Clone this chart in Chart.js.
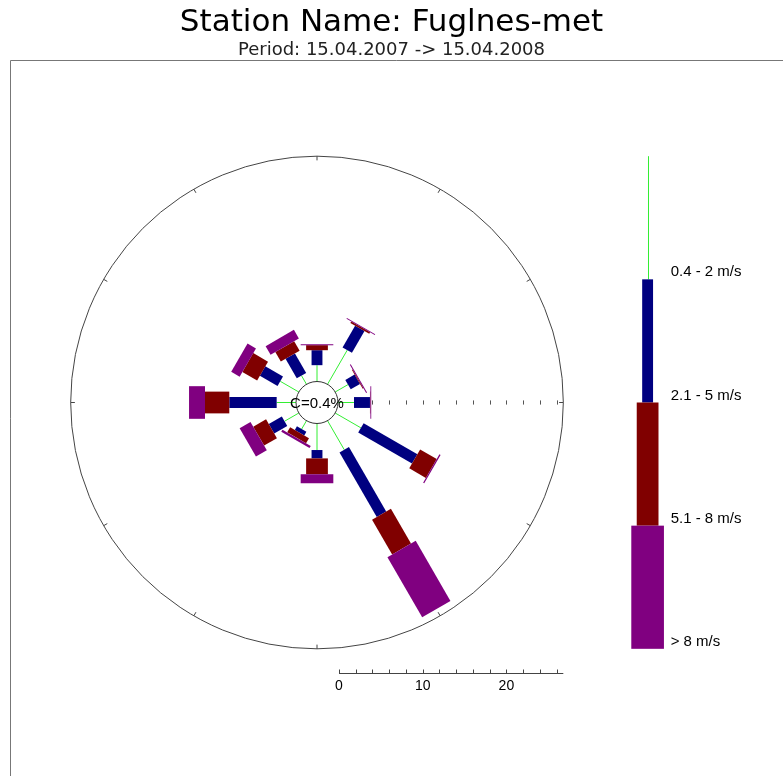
<!DOCTYPE html>
<html>
<head>
<meta charset="utf-8">
<title>Wind rose - Fuglnes-met</title>
<script src="https://cdn.jsdelivr.net/npm/chart.js@4.4.1/dist/chart.umd.min.js"></script>
<style>
  html, body { margin: 0; padding: 0; background: #fff; }
  canvas { display: block; }
</style>
</head>
<body>
<canvas id="rose" width="783" height="776"></canvas>
<script>
// wind rose data: % of time per direction sector and speed class
const directions = [0, 30, 60, 90, 120, 150, 180, 210, 240, 270, 300, 330];
const speedClasses = ['0.4 - 2 m/s', '2.1 - 5 m/s', '5.1 - 8 m/s', '> 8 m/s'];
const speed1 = [1.83, 4.6, 1.65, 1.79, 3.43, 3.88, 3.05, 1.04, 1.85, 2.19, 2.44, 1.08];
const speed2 = [1.79, 3.0, 1.28, 1.91, 7.42, 8.9, 1.0, 0.5, 1.8, 5.66, 2.44, 2.69];
const speed3 = [0.6, 0.2, 0.1, 0.05, 2.29, 4.8, 1.9, 0.7, 1.77, 2.9, 2.04, 1.31];
const speed4 = [0.12, 0.1, 0.12, 0.1, 0.15, 8.3, 1.08, 0.3, 1.5, 1.91, 1.16, 1.19];
const calmPct = 0.4;
const scaleTicks = [0, 10, 20];
const scaleMax = 26.8;

// layout (pixels), everything else is in % units through the scales
const W = 783, H = 776;
const AREA_TOP = 60;
const PX_PER_PCT = 8.37;
const CENTER_X = 317, CENTER_Y = 402.5;

const offset = 22 / PX_PER_PCT;      // bars start outside the calm circle
const calmRadius = 21 / PX_PER_PCT;
const outerRadius = offset + scaleMax;
const classColors = ['#33ee33', '#000080', '#800000', '#800080'];
const classWidths = [0, 1.3, 2.6, 3.9];
const legendX = 39.5;
const bottomScaleY = -32.35;

const series = [speed1, speed2, speed3, speed4];

const windRosePlugin = {
    id: 'windRose',
    afterDraw(chart) {
        const ctx = chart.ctx;
        const xs = chart.scales.x;
        const ys = chart.scales.y;
        const px = (x, y) => [xs.getPixelForValue(x), ys.getPixelForValue(y)];
        const unit = xs.getPixelForValue(1) - xs.getPixelForValue(0);
        const [cx, cy] = px(0, 0);

        ctx.save();

        // frame
        ctx.strokeStyle = '#777';
        ctx.lineWidth = 1;
        ctx.beginPath();
        ctx.moveTo(10.5, H);
        ctx.lineTo(10.5, chart.chartArea.top + 0.5);
        ctx.lineTo(W, chart.chartArea.top + 0.5);
        ctx.stroke();

        // outer circle + ticks every 30 degrees
        ctx.strokeStyle = '#444';
        ctx.beginPath();
        ctx.arc(cx, cy, outerRadius * unit, 0, Math.PI * 2);
        ctx.stroke();
        for (let a = 0; a < 360; a += 30) {
            const r = a * Math.PI / 180;
            const [x1, y1] = px(outerRadius * Math.sin(r), outerRadius * Math.cos(r));
            const [x2, y2] = px((outerRadius - 0.5) * Math.sin(r), (outerRadius - 0.5) * Math.cos(r));
            ctx.beginPath();
            ctx.moveTo(x1, y1);
            ctx.lineTo(x2, y2);
            ctx.stroke();
        }

        // dotted scale towards east
        ctx.strokeStyle = '#555';
        for (let v = 2; v <= scaleMax; v += 2) {
            const [x1, y1] = px(offset + v, 0.25);
            const [x2, y2] = px(offset + v, -0.25);
            ctx.beginPath();
            ctx.moveTo(Math.round(x1) + 0.5, y1);
            ctx.lineTo(Math.round(x2) + 0.5, y2);
            ctx.stroke();
        }

        // bars
        directions.forEach((dir, i) => {
            const a = dir * Math.PI / 180;
            const ux = Math.sin(a), uy = Math.cos(a);
            const vx = Math.cos(a), vy = -Math.sin(a);
            let r = offset;
            series.forEach((s, k) => {
                const r2 = r + s[i];
                if (k === 0) {
                    const [x1, y1] = px(calmRadius * ux, calmRadius * uy);
                    const [x2, y2] = px(r2 * ux, r2 * uy);
                    ctx.strokeStyle = classColors[0];
                    ctx.lineWidth = 1;
                    ctx.beginPath();
                    ctx.moveTo(x1, y1);
                    ctx.lineTo(x2, y2);
                    ctx.stroke();
                } else {
                    const hw = classWidths[k] / 2;
                    const pts = [[r, -hw], [r2, -hw], [r2, hw], [r, hw]]
                        .map(([rr, w]) => px(rr * ux + w * vx, rr * uy + w * vy));
                    ctx.fillStyle = classColors[k];
                    ctx.beginPath();
                    pts.forEach(([x, y], j) => j ? ctx.lineTo(x, y) : ctx.moveTo(x, y));
                    ctx.closePath();
                    ctx.fill();
                }
                r = r2;
            });
        });

        // calm circle
        ctx.fillStyle = '#fff';
        ctx.strokeStyle = '#333';
        ctx.lineWidth = 1;
        ctx.beginPath();
        ctx.arc(cx, cy, calmRadius * unit, 0, Math.PI * 2);
        ctx.fill();
        ctx.stroke();
        ctx.fillStyle = '#000';
        ctx.font = '15px "Liberation Sans", Arial, sans-serif';
        ctx.textAlign = 'center';
        ctx.textBaseline = 'middle';
        ctx.fillText('C=' + calmPct + '%', cx, cy + 1);

        // bottom scale
        const [sx0, sy] = px(offset, bottomScaleY);
        const [sx1] = px(offset + scaleMax, bottomScaleY);
        const lineY = Math.round(sy) + 0.5;
        ctx.strokeStyle = '#444';
        ctx.beginPath();
        ctx.moveTo(sx0, lineY);
        ctx.lineTo(sx1, lineY);
        ctx.stroke();
        for (let v = 0; v <= scaleMax; v += 2) {
            const x = Math.round(xs.getPixelForValue(offset + v)) + 0.5;
            ctx.beginPath();
            ctx.moveTo(x, lineY);
            ctx.lineTo(x, lineY - 4);
            ctx.stroke();
        }
        ctx.font = '14px "Liberation Sans", Arial, sans-serif';
        ctx.textBaseline = 'top';
        scaleTicks.forEach(t => {
            ctx.fillText(String(t), xs.getPixelForValue(offset + t), lineY + 6);
        });

        // legend: one segment per speed class, top to bottom across the circle diameter
        const seg = (2 * outerRadius) / speedClasses.length;
        ctx.textAlign = 'left';
        ctx.textBaseline = 'alphabetic';
        ctx.font = '15px "Liberation Sans", Arial, sans-serif';
        speedClasses.forEach((label, k) => {
            const yTop = outerRadius - k * seg;
            const yBot = yTop - seg;
            if (k === 0) {
                const [x1, y1] = px(legendX, yTop);
                const [, y2] = px(legendX, yBot);
                ctx.strokeStyle = classColors[0];
                ctx.beginPath();
                ctx.moveTo(Math.round(x1) + 0.5, y1);
                ctx.lineTo(Math.round(x1) + 0.5, y2);
                ctx.stroke();
            } else {
                const hw = classWidths[k] / 2;
                const [x1, y1] = px(legendX - hw, yTop);
                const [x2, y2] = px(legendX + hw, yBot);
                ctx.fillStyle = classColors[k];
                ctx.fillRect(x1, y1, x2 - x1, y2 - y1);
            }
            const [lx] = px(legendX + 2.75, 0);
            const [, ly] = px(0, yBot);
            ctx.fillStyle = '#000';
            ctx.fillText(label, lx, ly - 3);
        });

        ctx.restore();
    }
};

new Chart(document.getElementById('rose'), {
    type: 'scatter',
    data: { datasets: [] },
    options: {
        responsive: false,
        animation: false,
        events: [],
        layout: { padding: 0 },
        scales: {
            x: {
                type: 'linear', display: false,
                min: -CENTER_X / PX_PER_PCT,
                max: (W - CENTER_X) / PX_PER_PCT
            },
            y: {
                type: 'linear', display: false,
                min: -(H - CENTER_Y) / PX_PER_PCT,
                max: (CENTER_Y - AREA_TOP) / PX_PER_PCT
            }
        },
        plugins: {
            legend: { display: false },
            tooltip: { enabled: false },
            title: {
                display: true,
                text: 'Station Name: Fuglnes-met',
                color: '#000',
                font: { family: '"DejaVu Sans", sans-serif', size: 31, weight: 'normal', lineHeight: 1.2 },
                padding: { top: 4, bottom: 0 }
            },
            subtitle: {
                display: true,
                text: 'Period: 15.04.2007 -> 15.04.2008',
                color: '#222',
                font: { family: '"DejaVu Sans", sans-serif', size: 18, weight: 'normal', lineHeight: 1 },
                padding: { top: 0, bottom: 0.8 }
            }
        }
    },
    plugins: [windRosePlugin]
});
</script>
</body>
</html>
